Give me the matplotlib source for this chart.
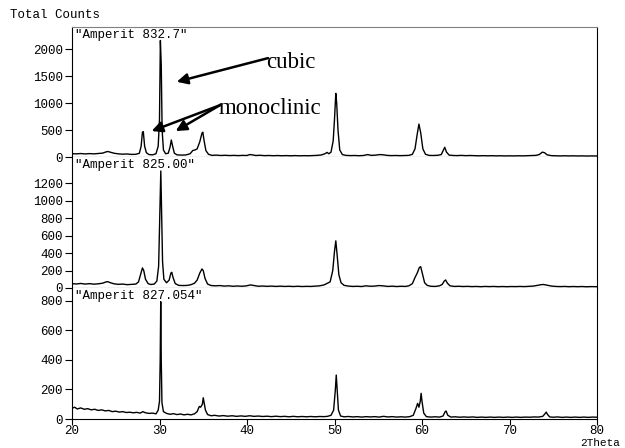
import numpy as np
import matplotlib.pyplot as plt

# sample names and axis settings
names = ['"Amperit 832.7"', '"Amperit 825.00"', '"Amperit 827.054"']
ymax = [2410, 1500, 888]
yticks = [[0, 500, 1000, 1500, 2000],
          [0, 200, 400, 600, 800, 1000, 1200],
          [0, 200, 400, 600, 800]]
xticks = [20, 30, 40, 50, 60, 70, 80]

# Amperit 832.7 (2theta, counts)
tt_832 = [20.0, 20.5, 21.0, 21.5, 22.0, 22.5, 23.0, 23.5, 23.9, 24.1,
          24.4, 24.8, 25.3, 25.8, 26.3, 26.8, 27.3, 27.7, 27.9, 28.05,
          28.15, 28.3, 28.5, 28.8, 29.2, 29.6, 29.85, 30.0, 30.1, 30.2,
          30.3, 30.45, 30.7, 31.0, 31.2, 31.35, 31.5, 31.7, 32.0, 32.5,
          33.0, 33.5, 33.8, 34.05, 34.3, 34.6, 34.85, 34.95, 35.1, 35.3,
          35.6, 36.0, 36.5, 37.0, 37.5, 38.0, 38.5, 39.0, 39.5, 40.0,
          40.3, 40.6, 41.0, 41.5, 42.0, 42.5, 43.0, 43.5, 44.0, 44.5,
          45.0, 45.5, 46.0, 46.5, 47.0, 47.5, 48.0, 48.5, 48.9, 49.15,
          49.35, 49.6, 49.85, 50.0, 50.15, 50.25, 50.4, 50.6, 50.9, 51.3,
          51.8, 52.3, 52.8, 53.3, 53.8, 54.2, 54.7, 55.2, 55.6, 56.0,
          56.5, 57.0, 57.5, 58.0, 58.5, 58.9, 59.2, 59.45, 59.65, 59.85,
          60.1, 60.4, 60.8, 61.3, 61.8, 62.2, 62.45, 62.6, 62.8, 63.1,
          63.6, 64.0, 64.5, 65.0, 65.5, 66.0, 66.5, 67.0, 67.5, 68.0,
          68.5, 69.0, 69.5, 70.0, 70.5, 71.0, 71.5, 72.0, 72.5, 73.0,
          73.4, 73.75, 74.0, 74.3, 74.8, 75.3, 75.8, 76.3, 76.8, 77.3,
          77.8, 78.3, 78.8, 79.3, 80.0]
cts_832 = [62, 58, 64, 57, 63, 58, 66, 72, 95, 102,
           88, 70, 58, 52, 56, 48, 50, 70, 200, 460,
           470, 200, 80, 45, 40, 60, 200, 700, 2160, 1700,
           500, 130, 60, 70, 180, 315, 200, 70, 40, 35,
           38, 60, 120, 130, 150, 280, 440, 460, 300, 120,
           50, 30, 35, 28, 32, 27, 30, 26, 30, 28,
           45, 40, 28, 32, 25, 28, 24, 27, 23, 26,
           22, 26, 22, 25, 23, 27, 30, 38, 60, 85,
           60, 90, 300, 700, 1180, 1000, 500, 130, 45, 30,
           26, 28, 24, 28, 45, 30, 35, 45, 40, 30,
           26, 28, 25, 27, 30, 50, 150, 420, 610, 450,
           150, 50, 30, 28, 32, 45, 130, 180, 90, 35,
           28, 26, 30, 25, 28, 24, 22, 25, 22, 24,
           21, 23, 20, 22, 20, 23, 21, 24, 26, 30,
           45, 90, 80, 40, 25, 22, 20, 23, 20, 22,
           19, 21, 18, 20, 19]

# Amperit 825.00
tt_825 = [20.0, 20.5, 21.0, 21.5, 22.0, 22.5, 23.0, 23.5, 23.9, 24.1,
          24.4, 24.8, 25.3, 25.8, 26.3, 26.8, 27.3, 27.6, 27.85, 28.05,
          28.2, 28.4, 28.7, 29.0, 29.4, 29.7, 29.9, 30.05, 30.15, 30.25,
          30.35, 30.5, 30.8, 31.1, 31.3, 31.4, 31.55, 31.8, 32.2, 32.7,
          33.2, 33.6, 34.0, 34.3, 34.6, 34.85, 35.0, 35.2, 35.5, 35.9,
          36.4, 36.9, 37.4, 37.9, 38.4, 38.9, 39.4, 39.9, 40.4, 40.8,
          41.3, 41.8, 42.3, 42.8, 43.3, 43.8, 44.3, 44.8, 45.3, 45.8,
          46.3, 46.8, 47.3, 47.8, 48.3, 48.8, 49.2, 49.5, 49.8, 50.0,
          50.15, 50.3, 50.5, 50.75, 51.1, 51.6, 52.1, 52.6, 53.1, 53.6,
          54.1, 54.6, 55.1, 55.6, 56.1, 56.6, 57.1, 57.6, 58.1, 58.5,
          58.9, 59.2, 59.45, 59.7, 59.85, 60.05, 60.3, 60.6, 61.0, 61.5,
          62.0, 62.3, 62.55, 62.7, 62.9, 63.2, 63.7, 64.2, 64.7, 65.2,
          65.7, 66.2, 66.7, 67.2, 67.7, 68.2, 68.7, 69.2, 69.7, 70.2,
          70.7, 71.2, 71.7, 72.2, 72.7, 73.2, 73.6, 73.9, 74.3, 74.8,
          75.3, 75.8, 76.3, 76.8, 77.3, 77.8, 78.3, 78.8, 79.3, 80.0]
cts_825 = [50, 46, 52, 45, 50, 44, 48, 55, 70, 72,
           60, 48, 42, 45, 38, 42, 45, 70, 160, 230,
           200, 100, 50, 40, 45, 80, 250, 900, 1340, 800,
           300, 100, 60, 90, 170, 180, 120, 50, 30, 28,
           30, 38, 55, 90, 170, 218, 200, 110, 45, 28,
           25, 28, 22, 25, 20, 23, 20, 24, 35, 28,
           20, 23, 19, 22, 18, 21, 18, 20, 17, 20,
           17, 19, 18, 22, 25, 35, 55, 70, 200, 420,
           540, 380, 150, 60, 30, 22, 18, 20, 17, 25,
           20, 22, 28, 24, 18, 21, 17, 20, 18, 25,
           50, 120, 170, 235, 244, 160, 60, 30, 20, 18,
           25, 40, 80, 92, 55, 25, 18, 20, 17, 19,
           16, 18, 15, 18, 16, 18, 15, 17, 15, 17,
           16, 18, 16, 19, 22, 30, 38, 40, 32, 22,
           18, 16, 18, 15, 17, 15, 17, 14, 16, 15]

# Amperit 827.054
tt_827 = [20.0, 20.3, 20.6, 21.0, 21.4, 21.8, 22.2, 22.6, 23.0, 23.4,
          23.8, 24.2, 24.6, 25.0, 25.4, 25.8, 26.2, 26.6, 27.0, 27.4,
          27.8, 28.1, 28.4, 28.8, 29.2, 29.6, 29.85, 30.0, 30.08, 30.14,
          30.2, 30.28, 30.45, 30.8, 31.2, 31.6, 32.0, 32.4, 32.8, 33.2,
          33.6, 34.0, 34.3, 34.55, 34.7, 34.9, 35.0, 35.1, 35.25, 35.5,
          35.9, 36.3, 36.8, 37.3, 37.8, 38.3, 38.8, 39.3, 39.8, 40.3,
          40.8, 41.3, 41.8, 42.3, 42.8, 43.3, 43.8, 44.3, 44.8, 45.3,
          45.8, 46.3, 46.8, 47.3, 47.8, 48.3, 48.8, 49.2, 49.6, 49.9,
          50.1, 50.2, 50.3, 50.45, 50.7, 51.1, 51.6, 52.1, 52.6, 53.1,
          53.6, 54.1, 54.6, 55.1, 55.6, 56.1, 56.6, 57.1, 57.6, 58.1,
          58.6, 59.0, 59.3, 59.5, 59.65, 59.8, 59.9, 60.0, 60.2, 60.5,
          61.0, 61.5, 62.0, 62.4, 62.65, 62.75, 62.95, 63.3, 63.8, 64.3,
          64.8, 65.3, 65.8, 66.3, 66.8, 67.3, 67.8, 68.3, 68.8, 69.3,
          69.8, 70.3, 70.8, 71.3, 71.8, 72.3, 72.8, 73.3, 73.8, 74.05,
          74.2, 74.35, 74.6, 75.0, 75.5, 76.0, 76.5, 77.0, 77.5, 78.0,
          78.5, 79.0, 79.5, 80.0]
cts_827 = [72, 80, 68, 75, 66, 70, 62, 66, 58, 62,
           55, 58, 50, 53, 47, 50, 44, 46, 42, 45,
           40, 50, 42, 38, 40, 35, 60, 120, 400, 795,
           400, 110, 50, 38, 32, 36, 30, 34, 28, 32,
           28, 35, 50, 85, 80, 100, 144, 110, 60, 30,
           22, 25, 20, 23, 19, 22, 18, 21, 18, 22,
           18, 20, 17, 19, 16, 19, 16, 18, 15, 18,
           15, 17, 15, 17, 15, 17, 16, 18, 25, 60,
           200, 298, 200, 60, 20, 15, 17, 14, 16, 13,
           16, 14, 16, 13, 18, 14, 16, 13, 15, 13,
           16, 25, 70, 106, 80, 120, 174, 120, 40, 16,
           13, 15, 13, 20, 50, 54, 25, 13, 15, 12,
           14, 12, 14, 11, 13, 11, 13, 11, 13, 11,
           13, 11, 13, 11, 13, 12, 14, 13, 18, 35,
           47, 30, 14, 12, 14, 11, 13, 11, 13, 11,
           13, 11, 13, 12]

patterns = [(tt_832, cts_832), (tt_825, cts_825), (tt_827, cts_827)]

mono = 'Liberation Mono'
fig = plt.figure(figsize=(6.25, 4.48), dpi=100)
W, H = 625, 448
left, right = 72, 597
edges = [27, 157, 288, 419]   # panel boundaries in pixels from the top

axes = []
for i in range(3):
    top, bot = edges[i], edges[i + 1]
    ax = fig.add_axes([left / W, (H - bot) / H, (right - left) / W, (bot - top) / H])
    tt, cts = patterns[i]
    ax.plot(tt, cts, color='black', lw=1.0)
    ax.set_xlim(20, 80)
    ax.set_ylim(0, ymax[i])
    ax.set_yticks(yticks[i])
    ax.set_yticklabels([str(v) for v in yticks[i]], family=mono, fontsize=9)
    ax.tick_params(axis='y', direction='out', length=5, width=0.8, pad=1.5)
    ax.text(0.006, 0.988, names[i], transform=ax.transAxes, va='top', ha='left',
            family=mono, fontsize=9)
    for s in ax.spines.values():
        s.set_linewidth(0.8)
    if i == 0:
        ax.spines['top'].set_color('#808080')
    else:
        ax.spines['top'].set_visible(False)
    if i < 2:
        ax.tick_params(axis='x', bottom=False, labelbottom=False)
    else:
        ax.set_xticks(xticks)
        ax.set_xticklabels([str(v) for v in xticks], family=mono, fontsize=9)
        ax.tick_params(axis='x', direction='out', length=4, width=0.8, pad=0.3)
    axes.append(ax)

ax1 = axes[0]
arrow = dict(arrowstyle='-|>', mutation_scale=16, lw=1.8, color='black',
             shrinkA=0, shrinkB=0)
ax1.annotate('', xy=(31.97, 1394), xytext=(42.4, 1833), arrowprops=arrow)
ax1.text(42.2, 1760, 'cubic', family='Liberation Serif', fontsize=16.5,
         va='center', ha='left')
ax1.annotate('', xy=(29.1, 481), xytext=(36.9, 960), arrowprops=arrow)
ax1.annotate('', xy=(31.85, 481), xytext=(36.9, 960), arrowprops=arrow)
ax1.text(36.8, 890, 'monoclinic', family='Liberation Serif', fontsize=16.5,
         va='center', ha='left')

fig.text(10 / W, 1 - 15.5 / H, 'Total Counts', family=mono, fontsize=9,
         va='center', ha='left')
fig.text(580 / W, 0.3 / H, '2Theta', family=mono, fontsize=8,
         va='bottom', ha='left')

fig.savefig('out.png', dpi=100)
